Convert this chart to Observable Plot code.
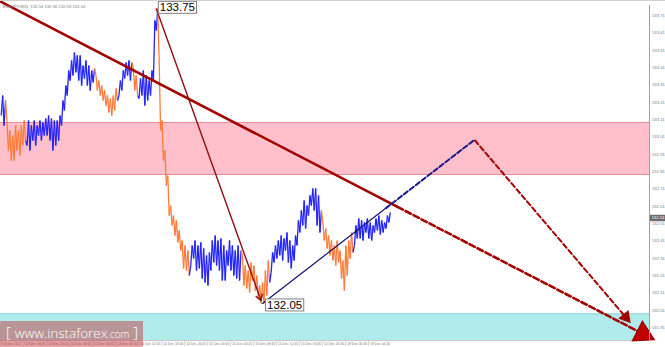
<!DOCTYPE html>
<html><head><meta charset="utf-8">
<script src="https://cdn.jsdelivr.net/npm/d3@7"></script>
<script src="https://cdn.jsdelivr.net/npm/@observablehq/plot@0.6"></script>
<style>html,body{margin:0;padding:0;background:#fff;overflow:hidden}#chart{width:665px;height:347px}</style>
</head><body><div id="chart"></div>
<script>
// EURJPY M15 — one entry every 2 bars (high / low / direction)
const high = [133.250,133.221,133.105,133.048,133.019,133.077,133.048,133.077,133.105,133.105,
133.077,133.105,133.077,133.105,133.094,133.117,133.134,133.117,133.105,133.105,
133.134,133.221,133.307,133.394,133.452,133.498,133.481,133.481,133.423,133.452,
133.423,133.394,133.406,133.365,133.336,133.307,133.279,133.250,133.232,133.250,
133.290,133.336,133.394,133.440,133.452,133.440,133.406,133.365,133.348,133.394,
133.365,133.336,133.394,133.683,133.750,133.452,133.105,132.932,132.788,132.615,
132.557,132.529,132.471,132.413,132.384,132.355,132.384,132.413,132.384,132.402,
132.367,132.327,132.344,132.413,132.442,132.413,132.425,132.384,132.355,132.413,
132.384,132.355,132.384,132.355,132.327,132.269,132.240,132.286,132.269,132.211,
132.153,132.171,132.240,132.298,132.344,132.384,132.413,132.442,132.425,132.459,
132.413,132.384,132.442,132.529,132.586,132.644,132.615,132.673,132.713,132.713,
132.673,132.586,132.517,132.482,132.442,132.413,132.384,132.413,132.355,132.298,
132.384,132.413,132.459,132.500,132.540,132.529,132.517,132.540,132.517,132.500,
132.540,132.557,132.529,132.517,132.557,132.575];
const low = [133.134,133.077,132.932,132.875,132.875,132.932,132.904,132.961,132.990,132.961,
132.932,132.990,132.961,133.019,132.990,133.019,133.019,132.990,132.932,132.961,
132.990,133.077,133.163,133.250,133.336,133.365,133.383,133.336,133.307,133.348,
133.307,133.279,133.325,133.279,133.250,133.221,133.192,133.152,133.134,133.163,
133.221,133.250,133.279,133.348,133.365,133.336,133.279,133.250,133.232,133.250,
133.192,133.221,133.250,133.336,133.625,133.048,132.875,132.730,132.557,132.500,
132.442,132.402,132.355,132.252,132.240,132.211,132.269,132.309,132.240,132.252,
132.194,132.171,132.153,132.240,132.286,132.269,132.240,132.182,132.182,132.269,
132.240,132.211,132.194,132.182,132.153,132.136,132.113,132.182,132.124,132.079,
132.050,132.050,132.096,132.171,132.229,132.286,132.309,132.327,132.298,132.355,
132.286,132.252,132.298,132.384,132.459,132.500,132.482,132.557,132.615,132.586,
132.500,132.459,132.413,132.367,132.327,132.298,132.269,132.286,132.194,132.124,
132.211,132.309,132.344,132.384,132.425,132.425,132.413,132.459,132.425,132.413,
132.459,132.471,132.448,132.459,132.482,132.517];
const dir = ("UU" + "DDDDDDD" + "UUUUUUUUUUUUUUUUUUUUUUUU" + "DDDDDDDD" + "UUUUU" + "DD" + "UUUUUUU" +
  "DDDDDDDDDDD" + "UUUUUUUUUUUUUUUUUU" + "DDDDDDDDDD" + "UUUUUUUUUUUUUUUUUU" + "DDDDDDDDDDD" + "UUUUUUUUUUUUU").split("");

// right price scale labels
const priceTicks = [133.71,133.61,133.51,133.41,133.31,133.21,133.11,133.01,132.91,132.81,132.71,132.61,132.51,132.41,132.31,132.21,132.11,132.01,131.91];
const lastPrice = 132.54;
// time labels (every 16 bars)
const timeLabels = ["13 Dec 2017","13 Dec 16:45","13 Dec 20:45","14 Dec 00:45","14 Dec 04:45","14 Dec 08:45","14 Dec 12:45","14 Dec 16:45","14 Dec 20:45","15 Dec 00:45","15 Dec 04:45","15 Dec 08:45","15 Dec 12:45","15 Dec 16:45","15 Dec 20:45","18 Dec 00:45","18 Dec 04:45"];
const timeBars = [0,16,32,48,64,80,96,112,128,144,160,176,192,208,224,240,256];

// zones
const resistanceZone = {top: 133.094, bottom: 132.794};
const supportZone = {top: 131.99, bottom: 131.836};

// wave / trend lines (bar index, price)
const trendSolid = [{bar:0, price:133.79},{bar:276, price:132.607}];
const trendDash  = [{bar:276, price:132.607},{bar:447, price:131.874}];
const waveDown   = [{bar:108, price:133.75},{bar:181, price:132.066}];
const waveUpSolid= [{bar:182, price:132.05},{bar:268, price:132.60}];
const waveUpDash = [{bar:268, price:132.60},{bar:329, price:132.99}];
const forecast   = [{bar:330, price:132.99},{bar:435, price:131.97}];
const extremes   = [{bar:108, price:133.75},{bar:182, price:132.05}];

const bars = high.map((h, k) => ({bar: 2 * k, high: h, low: low[k], dir: dir[k]}));
// zig-zag through each entry's low/high, in bar order
const pts = bars.flatMap(b => b.dir === "U"
  ? [{bar: b.bar, price: b.low, dir: b.dir}, {bar: b.bar + 1, price: b.high, dir: b.dir}]
  : [{bar: b.bar, price: b.high, dir: b.dir}, {bar: b.bar + 1, price: b.low, dir: b.dir}]);
const segs = pts.slice(1).map((p, i) => ({x1: pts[i].bar, y1: pts[i].price, x2: p.bar, y2: p.price, dir: p.dir}));
const xMax = 451.5;

const plot = Plot.plot({
  width: 665, height: 347,
  marginTop: 5, marginBottom: 7, marginLeft: 0, marginRight: 16,
  x: {domain: [-0.5, xMax], axis: null},
  y: {domain: [supportZone.bottom, 133.769], axis: null},
  color: {domain: ["U","D"], range: ["#2323ff","#ff7b3a"]},
  style: {background: "#fff", fontFamily: "Liberation Sans, Arial, sans-serif"},
  marks: [
    Plot.rect([resistanceZone], {x1: -0.5, x2: xMax, y1: "bottom", y2: "top", fill: "#ffc0cb"}),
    Plot.ruleY([resistanceZone.top, resistanceZone.bottom], {x1: -0.5, x2: xMax, stroke: "#e58a94", strokeWidth: 1}),
    Plot.rect([supportZone], {x1: -0.5, x2: xMax, y1: "bottom", y2: "top", fill: "#b0ecec"}),
    Plot.ruleY([supportZone.top], {x1: -0.5, x2: xMax, stroke: "#8fd6d6", strokeWidth: 1}),
    Plot.ruleY([supportZone.bottom], {x1: -0.5, x2: xMax, stroke: "#c8c8c8", strokeWidth: 1}),
    Plot.link(segs, {x1: "x1", y1: "y1", x2: "x2", y2: "y2", stroke: "dir", strokeWidth: 1.3}),
    Plot.line(trendSolid, {x: "bar", y: "price", stroke: "#a30000", strokeWidth: 2.6}),
    Plot.line(trendDash, {x: "bar", y: "price", stroke: "#a30000", strokeWidth: 2.6, strokeDasharray: "6,3"}),
    Plot.dot([trendDash[1]], {x: "bar", y: "price", symbol: "triangle", r: 8, rotate: 117, fill: "#c00000", stroke: "#a30000"}),
    Plot.arrow([waveDown], {x1: d => d[0].bar, y1: d => d[0].price, x2: d => d[1].bar, y2: d => d[1].price, stroke: "#8e1010", strokeWidth: 1.4, headLength: 7}),
    Plot.line(waveUpSolid, {x: "bar", y: "price", stroke: "#10106e", strokeWidth: 1.2}),
    Plot.line(waveUpDash, {x: "bar", y: "price", stroke: "#18188a", strokeWidth: 2, strokeDasharray: "5,2.5"}),
    Plot.line(forecast, {x: "bar", y: "price", stroke: "#a30000", strokeWidth: 2, strokeDasharray: "5,3"}),
    Plot.dot([forecast[1]], {x: "bar", y: "price", symbol: "triangle", r: 4, rotate: 140, fill: "#a30000", stroke: "#a30000"}),
    Plot.ruleX([xMax], {stroke: "#a0a0a0", strokeWidth: 1}),
    Plot.text(priceTicks, {x: xMax, y: d => d, text: d => d.toFixed(2), textAnchor: "start", dx: 2.5, fontSize: 4.2, fill: "#7a7a7a"}),
    Plot.text(timeBars, {x: d => d, text: (d, i) => timeLabels[i], frameAnchor: "bottom", textAnchor: "start", dy: 4, dx: 1.2, fontSize: 3.4, fill: "#7a7a7a"})
  ]
});
document.getElementById("chart").appendChild(plot);

const svg = d3.select(plot);
const sx = plot.scale("x"), sy = plot.scale("y");
const fx = sx && sx.apply ? v => sx.apply(v) : v => (v + 0.5) / (xMax + 0.5) * 649;
const fy = sy && sy.apply ? v => sy.apply(v) : v => 5 + (133.769 - v) / (133.769 - supportZone.bottom) * 335;

// small separators at the time labels
svg.append("g").attr("stroke", "#b0b0b0").attr("stroke-width", 0.6)
  .selectAll("line").data(timeBars).join("line")
  .attr("x1", d => fx(d) + 0.3).attr("x2", d => fx(d) + 0.3).attr("y1", 340.5).attr("y2", 346);

// boxed labels at the wave extremes
const offsets = [{dx: 4, dy: 0}, {dx: 5, dy: 3}];
extremes.forEach((e, i) => {
  const g = svg.append("g");
  const txt = g.append("text").attr("text-anchor", "start").attr("dominant-baseline", "middle")
    .attr("font-family", "Liberation Sans, Arial, sans-serif").attr("font-size", 11.5).attr("fill", "#000")
    .attr("x", fx(e.bar) + offsets[i].dx).attr("y", fy(e.price) + offsets[i].dy).text(e.price.toFixed(2));
  const b = txt.node().getBBox();
  g.insert("rect", "text").attr("x", b.x - 1.5).attr("y", b.y).attr("width", b.width + 3).attr("height", b.height)
    .attr("fill", "#fff").attr("stroke", "#808080").attr("stroke-width", 1);
});

// current price tag
const tagY = fy(lastPrice);
svg.append("rect").attr("x", 650).attr("y", tagY - 3.2).attr("width", 15).attr("height", 6.4).attr("fill", "#6b6b6b");
svg.append("text").attr("text-anchor", "start").attr("x", 651.5).attr("y", tagY + 1.5).attr("font-size", 4.2).attr("fill", "#fff").text(lastPrice.toFixed(2));
// header
svg.append("line").attr("x1", 0).attr("x2", 665).attr("y1", 0.5).attr("y2", 0.5).attr("stroke", "#d0d0d0");
svg.append("text").attr("text-anchor", "start").attr("x", 3).attr("y", 7.5).attr("font-size", 4.2).attr("fill", "#7a7a7a").text("EURJPY,M15  132.54 132.56 132.53 132.54");
// watermark
const wm = svg.append("g");
wm.append("rect").attr("x", 0).attr("y", 321).attr("width", 143).attr("height", 26).attr("fill", "rgba(198,45,50,0.45)");
const t = wm.append("text").attr("text-anchor", "start").attr("x", 6).attr("y", 338).attr("fill", "#fff").attr("font-family", "Open Sans, sans-serif").attr("font-weight", 300);
t.append("tspan").attr("font-size", 15).text("[ ");
t.append("tspan").attr("font-size", 13.5).text("www.instaforex");
t.append("tspan").attr("font-size", 10).text(".com");
t.append("tspan").attr("font-size", 15).text(" ]");
</script>
</body></html>
